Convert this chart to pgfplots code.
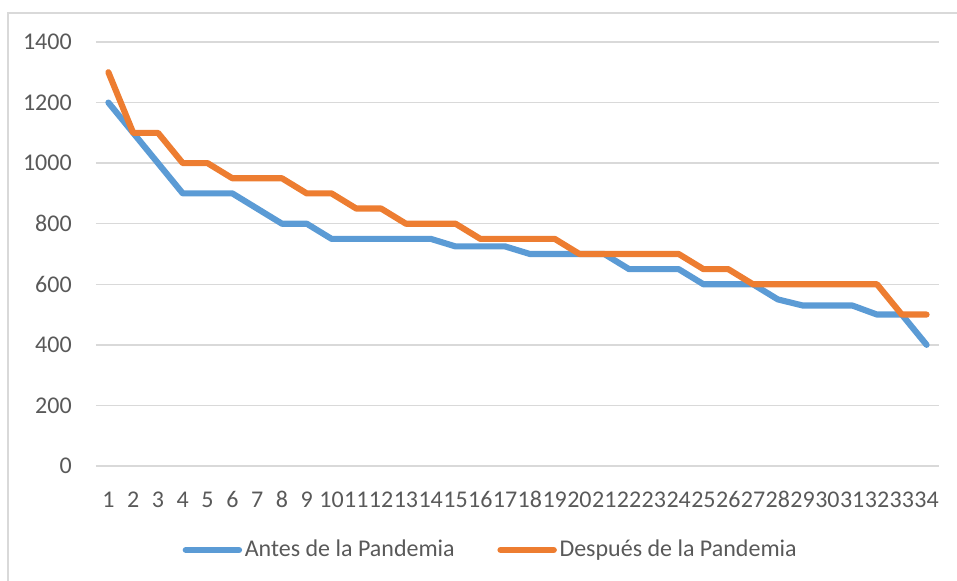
\documentclass[border=0pt]{standalone}
\usepackage{pgfplots}
\pgfplotsset{compat=1.18}
\usepackage{fontspec}
\setmainfont{Carlito}

\definecolor{antes}{HTML}{5B9BD5}
\definecolor{despues}{HTML}{ED7D31}
\definecolor{txt}{HTML}{595959}
\definecolor{grd}{HTML}{D9D9D9}

\begin{document}
\fontsize{18}{21}\selectfont
\begin{tikzpicture}[x=1pt,y=1pt]
\useasboundingbox (0,0) rectangle (717.75,435.75);
% chart frame (top and left edges visible)
\draw[grd, line width=1.2pt] (6,0) -- (6,426) -- (717.75,426);

\begin{axis}[
  at={(72pt,86.25pt)}, anchor=south west,
  scale only axis,
  width=632.25pt, height=318pt,
  xmin=0.5, xmax=34.5,
  ymin=0, ymax=1400,
  xtick={1,...,34},
  ytick={0,200,...,1400},
  ymajorgrids,
  major grid style={grd, line width=1pt},
  axis x line*=bottom,
  axis y line*=left,
  y axis line style={draw=none},
  x axis line style={grd, line width=1pt, -},
  major tick length=0pt,
  tick label style={txt, font=\fontsize{18}{21}\selectfont},
  xticklabel style={yshift=-13pt, text height=12pt, text depth=0pt},
  yticklabel style={xshift=-12pt},
  /pgf/number format/assume math mode=true,
  /pgf/number format/1000 sep={},
  every axis plot/.append style={line width=4.6pt, line join=round, line cap=round, mark=none},
  legend columns=2,
  legend style={
    at={(axis description cs:0.4686,-0.198)}, anchor=center,
    draw=none, fill=none, text=txt,
    font=\fontsize{18}{21}\selectfont,
    /tikz/every even column/.append style={column sep=30pt},
    inner sep=0pt,
  },
  legend image code/.code={\draw[#1, line cap=round] (0pt,0pt) -- (40pt,0pt);},
]

% Antes de la Pandemia
\addplot[antes] coordinates {
  (1,1200) (2,1100) (3,1000) (4,900) (5,900) (6,900) (7,850) (8,800)
  (9,800) (10,750) (11,750) (12,750) (13,750) (14,750) (15,725) (16,725)
  (17,725) (18,700) (19,700) (20,700) (21,700) (22,650) (23,650) (24,650)
  (25,600) (26,600) (27,600) (28,550) (29,530) (30,530) (31,530) (32,500)
  (33,500) (34,400)
};

% Despues de la Pandemia
\addplot[despues] coordinates {
  (1,1300) (2,1100) (3,1100) (4,1000) (5,1000) (6,950) (7,950) (8,950)
  (9,900) (10,900) (11,850) (12,850) (13,800) (14,800) (15,800) (16,750)
  (17,750) (18,750) (19,750) (20,700) (21,700) (22,700) (23,700) (24,700)
  (25,650) (26,650) (27,600) (28,600) (29,600) (30,600) (31,600) (32,600)
  (33,500) (34,500)
};

\legend{Antes de la Pandemia, Después de la Pandemia}
\end{axis}
\end{tikzpicture}
\end{document}
